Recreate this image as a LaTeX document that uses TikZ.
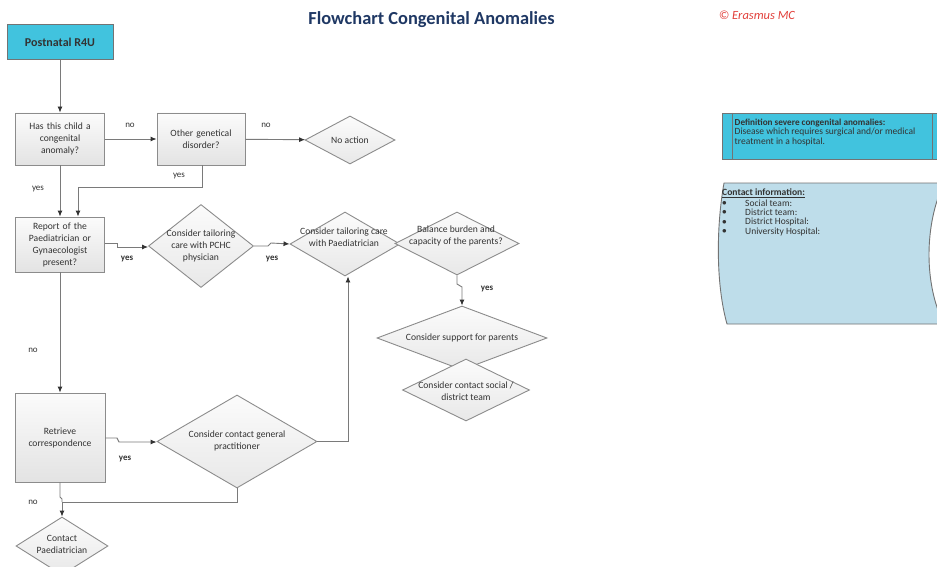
\documentclass[tikz,border=0pt]{standalone}
\usepackage{fontspec}
\setmainfont{Carlito}
\usetikzlibrary{shapes.geometric,arrows.meta}
\definecolor{cyanbox}{HTML}{41C3DE}
\definecolor{edgegray}{HTML}{7A7A7A}
\definecolor{boxgray}{HTML}{8C8C8C}
\definecolor{navy}{HTML}{1F3864}
\definecolor{erasred}{HTML}{E2403B}
\definecolor{txtgray}{HTML}{333333}
\definecolor{infoblue}{HTML}{BEDDEA}
\tikzset{
  procbox/.style={draw=boxgray, line width=0.9pt, top color=white!97!gray, bottom color=gray!22,
    inner sep=0pt, text width=#1, align=center, font=\fontsize{9.6}{12}\selectfont, text=txtgray},
  dia/.style={diamond, draw=boxgray, line width=0.9pt, top color=white!97!gray, bottom color=gray!18,
    inner sep=0pt, aspect=1},
  dtext/.style={align=center, font=\fontsize{9.6}{12}\selectfont, text=txtgray, inner sep=0pt},
  conn/.style={draw=edgegray, line width=0.9pt},
  arr/.style={conn, -{Latex[length=6pt,width=5pt,black!80]}},
  lbl/.style={font=\fontsize{9}{10}\selectfont, text=txtgray, inner sep=0pt},
  ylbl/.style={font=\bfseries\fontsize{9}{10}\selectfont, text=txtgray, inner sep=0pt},
  side/.style={font=\fontsize{9.5}{10}\selectfont, text=txtgray, inner sep=0pt, anchor=west},
}
\begin{document}
\begin{tikzpicture}[x=1pt,y=-1pt]
\useasboundingbox (0,0) rectangle (937,567);
\fill[white] (0,0) rectangle (937,567);

% header
\node[font=\bfseries\fontsize{18.4}{20}\selectfont, text=navy] (title) at (431.5,20) {Flowchart Congenital Anomalies};
\node[font=\itshape\fontsize{12.5}{14}\selectfont, text=erasred] (copy) at (757,15) {\textcopyright\ Erasmus MC};

% start
\node[draw=black!55, line width=1pt, fill=cyanbox, minimum width=106pt, minimum height=35pt,
  font=\bfseries\fontsize{12}{14}\selectfont, text=black!80] (start) at (60,42.5) {Postnatal R4U};

% question boxes
\node[procbox=85pt, minimum width=89pt, minimum height=52pt] (q1) at (60,139) {Has this child a\\congenital\\anomaly?};
\node[procbox=85pt, minimum width=88pt, minimum height=52pt] (q2) at (201,139) {Other genetical\\disorder?};
\node[procbox=87pt, minimum width=89pt, minimum height=55pt] (rep) at (60,244.5) {Report of the\\Paediatrician or\\Gynaecologist\\present?};
\node[procbox=87pt, minimum width=90pt, minimum height=89pt] (ret) at (60,437.5) {Retrieve\\correspondence};

% decision diamonds
\node[dia, minimum width=90pt, minimum height=48pt] (noact) at (350,140) {};
\node[dia, minimum width=105pt, minimum height=83pt] (pchc) at (201,246) {};
\node[dia, minimum width=110pt, minimum height=64pt] (paed) at (345,244) {};
\node[dia, minimum width=124pt, minimum height=63pt] (bal) at (457,243.5) {};
\node[dia, minimum width=170pt, minimum height=64pt] (sup) at (462,338) {};
\node[dia, minimum width=127pt, minimum height=62pt] (soc) at (466,390) {};
\node[dia, minimum width=160pt, minimum height=93pt] (gp) at (237,441.5) {};
\node[dia, minimum width=92pt, minimum height=58pt] (cpaed) at (62,546) {};

% diamond texts
\node[dtext] (tnoact) at (noact) {No action};
\node[dtext] (tpchc) at (pchc) {Consider tailoring\\care with PCHC\\physician};
\node[dtext] (tpaed) at (344,237) {Consider tailoring care\\with Paediatrician};
\node[dtext] (tbal) at (456,236) {Balance burden and\\capacity of the parents?};
\node[dtext] (tsup) at (sup) {Consider support for parents};
\node[dtext] (tsoc) at (466,391) {Consider contact social /\\district team};
\node[dtext] (tgp) at (237,441) {Consider contact general\\practitioner};
\node[dtext] (tcpaed) at (62,544) {Contact\\Paediatrician};

% routing points
\coordinate (q2down) at (202,187);
\coordinate (repin) at (78,187);
\coordinate (repj1) at (117,243);
\coordinate (repj2) at (117,247);
\coordinate (pchcj1) at (268,246);
\coordinate (pchcj2) at (271,243);
\coordinate (balj1) at (457,284);
\coordinate (balj2) at (462,287);
\coordinate (retj1) at (117,438);
\coordinate (retj2) at (119,442);
\coordinate (gpr) at (348,441.5);
\coordinate (merge) at (62,502);
\coordinate (gpd) at (237,502);
\coordinate (retj3) at (60,497);

% connectors
\draw[arr] (start) -- (q1);
\draw[arr] (q1) -- (q2);
\draw[arr] (q2) -- (noact);
\draw[arr] (q1) -- (rep);
\draw[arr] (q2.south -| q2down) -- (q2down) -- (repin) -- (rep.north -| repin);
\draw[arr] (rep.east |- repj1) -- (repj1) -- (repj2) -- (pchc.west |- repj2);
\draw[arr] (pchc.east) -- (pchcj1) -- (pchcj2) -- (paed.west);
\draw[arr] (bal.south) -- (balj1) -- (balj2) -- (sup.north);
\draw[arr] (rep) -- (ret);
\draw[arr] (ret.east |- retj1) -- (retj1) -- (retj2) -- (gp.west |- retj2);
\draw[arr] (gp.east) -- (gpr) -- (paed.south -| gpr);
\draw[conn] (gp.south) -- (gpd) -- (merge);
\draw[conn] (ret.south) -- (retj3) -- (61,498) -- (62,499) -- (merge);
\draw[arr] (merge) -- (cpaed.north);

% connector labels
\node[lbl] (lno1) at (130,125) {no};
\node[lbl] (lno2) at (266,125) {no};
\node[lbl] (lyes1) at (38,189) {yes};
\node[lbl] (lyes2) at (179,176) {yes};
\node[ylbl] (lyes3) at (127,259) {yes};
\node[ylbl] (lyes4) at (272,259) {yes};
\node[ylbl] (lyes5) at (487,289) {yes};
\node[lbl] (lno3) at (33,350) {no};
\node[ylbl] (lyes6) at (125,459) {yes};
\node[lbl] (lno4) at (33,502) {no};

% definition panel
\draw[draw=black!55, line width=0.9pt, fill=cyanbox] (722,113) rectangle (948,159);
\draw[black!55, line width=0.8pt] (732,113) -- (732,159) (932,113) -- (932,159);
\node[side, font=\bfseries\fontsize{9.2}{10}\selectfont] (defh) at (734.5,123) {Definition severe congenital anomalies:};
\node[side, anchor=north west, align=left] (defb) at (734.5,128) {Disease which requires surgical and/or medical\\treatment in a hospital.};

% contact information panel
\draw[draw=black!55, line width=0.9pt, fill=infoblue]
  (724,183) -- (944,183) .. controls (924,225) and (924,285) .. (944,324)
  -- (727,324) .. controls (716,285) and (716,228) .. cycle;
\node[side, font=\bfseries\fontsize{9.6}{10}\selectfont] (cih) at (722,193) {\underline{Contact information:}};
\node[side] (b1) at (722,203) {$\bullet$};
\node[side] (b2) at (722,212.5) {$\bullet$};
\node[side] (b3) at (722,222) {$\bullet$};
\node[side] (b4) at (722,231.5) {$\bullet$};
\node[side] (c1) at (745,203) {Social team:};
\node[side] (c2) at (745,212.5) {District team:};
\node[side] (c3) at (745,222) {District Hospital:};
\node[side] (c4) at (745,231.5) {University Hospital:};
\end{tikzpicture}
\end{document}
